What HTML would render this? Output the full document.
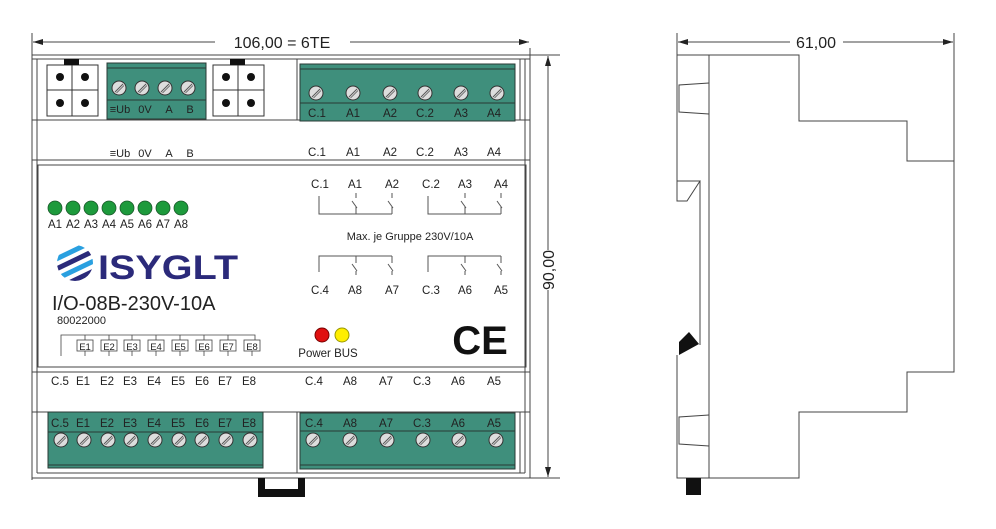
<!DOCTYPE html>
<html><head><meta charset="utf-8"><style>
html,body{margin:0;padding:0;background:#fff;}
svg{display:block;font-family:"Liberation Sans",Arial,sans-serif;}
</style></head><body>
<svg width="996" height="529" viewBox="0 0 996 529" xmlns="http://www.w3.org/2000/svg">
<defs>
<g id="scr"><circle r="7" fill="#ddd" stroke="#333" stroke-width="1"/><line x1="-4" y1="4" x2="4" y2="-4" stroke="#555" stroke-width="1"/><line x1="-2.5" y1="5" x2="5" y2="-2.5" stroke="#555" stroke-width="0.8"/></g>
<g id="sw"><line x1="0" y1="0" x2="0" y2="5" stroke="#555"/><line x1="-4" y1="8" x2="1" y2="15" stroke="#555"/><line x1="0" y1="14" x2="0" y2="21" stroke="#555"/></g>
<g id="swb"><line x1="0" y1="0" x2="0" y2="7" stroke="#555"/><line x1="-4" y1="8" x2="1" y2="15" stroke="#555"/><line x1="0" y1="15" x2="0" y2="19" stroke="#555"/></g>
<marker id="ar" viewBox="0 0 10 6" refX="10" refY="3" markerWidth="10" markerHeight="6" orient="auto-start-reverse" markerUnits="userSpaceOnUse"><path d="M0,0 L10,3 L0,6 z" fill="#222"/></marker>
<clipPath id="sph"><circle cx="75" cy="263" r="18"/></clipPath>
</defs>
<g fill="none" stroke="#444" stroke-width="1">
<!-- dimensions front -->
<line x1="32" y1="33" x2="32" y2="480"/>
<line x1="530" y1="48" x2="530" y2="55"/>
<line x1="33" y1="42" x2="215" y2="42" marker-start="url(#ar)"/>
<line x1="350" y1="42" x2="529" y2="42" marker-end="url(#ar)"/>
<line x1="530" y1="55" x2="560" y2="55"/>
<line x1="530" y1="478" x2="560" y2="478"/>
<line x1="548" y1="56" x2="548" y2="250" marker-start="url(#ar)"/>
<line x1="548" y1="290" x2="548" y2="477" marker-end="url(#ar)"/>
<!-- body -->
<rect x="32" y="55" width="498" height="423"/>
<line x1="32" y1="59" x2="530" y2="59"/>
<line x1="37" y1="59" x2="37" y2="473"/>
<line x1="525" y1="59" x2="525" y2="473"/>
<line x1="297" y1="59" x2="297" y2="120"/>
<line x1="32" y1="120" x2="530" y2="120"/>
<line x1="32" y1="160" x2="530" y2="160"/>
<rect x="38" y="165" width="488" height="202"/>
<line x1="32" y1="372" x2="530" y2="372"/>
<line x1="32" y1="412" x2="530" y2="412"/>
<line x1="37" y1="473" x2="525" y2="473"/>
<line x1="297" y1="412" x2="297" y2="473"/>
<line x1="520" y1="59" x2="520" y2="120"/>
<line x1="520" y1="412" x2="520" y2="473"/>
<!-- side view -->
<line x1="677" y1="33" x2="677" y2="110"/>
<line x1="954" y1="33" x2="954" y2="161"/>
<line x1="678" y1="42" x2="790" y2="42" marker-start="url(#ar)"/>
<line x1="843" y1="42" x2="953" y2="42" marker-end="url(#ar)"/>
<path d="M677 55 H799 V121 H907 V161 H954 V372 H907 V412 H799 V478 H677 V355 M677 181 V55"/>
<line x1="709" y1="55" x2="709" y2="478"/>
<path d="M709 83 L679 85 V112 L709 114"/>
<path d="M709 415 L679 417 V444 L709 446"/>
<path d="M677 181 H700 L687 201 H677 V181"/>
<path d="M700 181 V345"/>
</g>
<polygon points="679,342 689,332 699,344 679,355" fill="#111"/>
<rect x="686" y="478" width="15" height="17" fill="#111"/>
<!-- din clip -->
<path d="M258 478 V497 H305 V478 H298 V489 H265 V478 Z" fill="#111"/>
<!-- dimension texts -->
<g font-size="16" fill="#222"><text x="282" y="48" text-anchor="middle">106,00 = 6TE</text>
<text x="816" y="48" text-anchor="middle">61,00</text>
<text transform="translate(554,270) rotate(-90)" text-anchor="middle">90,00</text></g>
<!-- top left connectors -->
<g stroke="#333" fill="#fff">
<rect x="47" y="65" width="51" height="51"/><line x1="72" y1="65" x2="72" y2="116"/><line x1="47" y1="90" x2="98" y2="90"/>
<rect x="213" y="65" width="51" height="51"/><line x1="238" y1="65" x2="238" y2="116"/><line x1="213" y1="90" x2="264" y2="90"/>
</g>
<rect x="64" y="59" width="15" height="6" fill="#111"/><rect x="230" y="59" width="15" height="6" fill="#111"/>
<g fill="#111"><circle cx="60" cy="77" r="4"/><circle cx="85" cy="77" r="4"/><circle cx="60" cy="103" r="4"/><circle cx="85" cy="103" r="4"/>
<circle cx="226" cy="77" r="4"/><circle cx="251" cy="77" r="4"/><circle cx="226" cy="103" r="4"/><circle cx="251" cy="103" r="4"/></g>
<!-- green blocks -->
<g fill="#3f8f7c" stroke="#2a3a34">
<rect x="107" y="63" width="99" height="56"/>
<rect x="300" y="64" width="215" height="57"/>
<rect x="48" y="412" width="215" height="56"/>
<rect x="300" y="413" width="215" height="56"/>
</g>
<g stroke="#2a3a34">
<line x1="107" y1="68" x2="206" y2="68"/><line x1="107" y1="100" x2="206" y2="100"/>
<line x1="300" y1="69" x2="515" y2="69"/><line x1="300" y1="103" x2="515" y2="103"/>
<line x1="48" y1="432" x2="263" y2="432"/><line x1="48" y1="465" x2="263" y2="465"/>
<line x1="300" y1="431" x2="515" y2="431"/><line x1="300" y1="465" x2="515" y2="465"/>
</g>
<g>
<use href="#scr" x="119" y="88"/><use href="#scr" x="142" y="88"/><use href="#scr" x="165" y="88"/><use href="#scr" x="188" y="88"/>
<use href="#scr" x="316" y="93"/><use href="#scr" x="353" y="93"/><use href="#scr" x="390" y="93"/><use href="#scr" x="425" y="93"/><use href="#scr" x="461" y="93"/><use href="#scr" x="497" y="93"/>
<use href="#scr" x="61" y="440"/><use href="#scr" x="84" y="440"/><use href="#scr" x="108" y="440"/><use href="#scr" x="131" y="440"/><use href="#scr" x="155" y="440"/><use href="#scr" x="179" y="440"/><use href="#scr" x="202" y="440"/><use href="#scr" x="226" y="440"/><use href="#scr" x="250" y="440"/>
<use href="#scr" x="313" y="440"/><use href="#scr" x="350" y="440"/><use href="#scr" x="387" y="440"/><use href="#scr" x="423" y="440"/><use href="#scr" x="459" y="440"/><use href="#scr" x="496" y="440"/>
</g>
<g font-size="11" fill="#222" text-anchor="middle">
<text x="120" y="113">≡Ub</text><text x="145" y="113">0V</text><text x="169" y="113">A</text><text x="190" y="113">B</text>
<text x="120" y="157">≡Ub</text><text x="145" y="157">0V</text><text x="169" y="157">A</text><text x="190" y="157">B</text>
<g font-size="11.5">
<text x="317" y="117">C.1</text><text x="353" y="117">A1</text><text x="390" y="117">A2</text><text x="425" y="117">C.2</text><text x="461" y="117">A3</text><text x="494" y="117">A4</text>
<text x="317" y="156">C.1</text><text x="353" y="156">A1</text><text x="390" y="156">A2</text><text x="425" y="156">C.2</text><text x="461" y="156">A3</text><text x="494" y="156">A4</text>
<text x="320" y="188">C.1</text><text x="355" y="188">A1</text><text x="392" y="188">A2</text><text x="431" y="188">C.2</text><text x="465" y="188">A3</text><text x="501" y="188">A4</text>
<text x="320" y="294">C.4</text><text x="355" y="294">A8</text><text x="392" y="294">A7</text><text x="431" y="294">C.3</text><text x="465" y="294">A6</text><text x="501" y="294">A5</text>
<text x="314" y="385">C.4</text><text x="350" y="385">A8</text><text x="386" y="385">A7</text><text x="422" y="385">C.3</text><text x="458" y="385">A6</text><text x="494" y="385">A5</text>
<text x="314" y="427">C.4</text><text x="350" y="427">A8</text><text x="386" y="427">A7</text><text x="422" y="427">C.3</text><text x="458" y="427">A6</text><text x="494" y="427">A5</text>
<text x="60" y="385">C.5</text><text x="83" y="385">E1</text><text x="107" y="385">E2</text><text x="130" y="385">E3</text><text x="154" y="385">E4</text><text x="178" y="385">E5</text><text x="202" y="385">E6</text><text x="225" y="385">E7</text><text x="249" y="385">E8</text>
<text x="60" y="427">C.5</text><text x="83" y="427">E1</text><text x="107" y="427">E2</text><text x="130" y="427">E3</text><text x="154" y="427">E4</text><text x="178" y="427">E5</text><text x="202" y="427">E6</text><text x="225" y="427">E7</text><text x="249" y="427">E8</text>
</g>
<text x="410" y="240" font-size="11">Max. je Gruppe 230V/10A</text>
<text x="328" y="357" font-size="11.5">Power BUS</text>
</g>
<!-- relay schematic -->
<g fill="none" stroke="#555">
<path d="M319 196 V214 H392"/><path d="M428 196 V214 H501"/>
<path d="M319 272 V256 H392"/><path d="M428 272 V256 H501"/>
</g>
<use href="#sw" x="356" y="193"/><use href="#sw" x="392" y="193"/><use href="#sw" x="465" y="193"/><use href="#sw" x="501" y="193"/>
<use href="#swb" x="356" y="256"/><use href="#swb" x="392" y="256"/><use href="#swb" x="465" y="256"/><use href="#swb" x="501" y="256"/>
<!-- LEDs -->
<g fill="#1d9a3c" stroke="#1a5a2a" stroke-width="0.8">
<circle cx="55" cy="208" r="7"/><circle cx="73" cy="208" r="7"/><circle cx="91" cy="208" r="7"/><circle cx="109" cy="208" r="7"/><circle cx="127" cy="208" r="7"/><circle cx="145" cy="208" r="7"/><circle cx="163" cy="208" r="7"/><circle cx="181" cy="208" r="7"/>
</g>
<g font-size="11.5" fill="#222" text-anchor="middle">
<text x="55" y="228">A1</text><text x="73" y="228">A2</text><text x="91" y="228">A3</text><text x="109" y="228">A4</text><text x="127" y="228">A5</text><text x="145" y="228">A6</text><text x="163" y="228">A7</text><text x="181" y="228">A8</text>
</g>
<circle cx="322" cy="335" r="7" fill="#e01010" stroke="#700"/>
<circle cx="342" cy="335" r="7" fill="#ffee00" stroke="#990"/>
<!-- logo -->
<g clip-path="url(#sph)" stroke-width="5">
<line x1="50" y1="262" x2="100" y2="238" stroke="#2aa0e0"/>
<line x1="50" y1="272" x2="100" y2="248" stroke="#2b2a7a"/>
<line x1="50" y1="282" x2="100" y2="258" stroke="#2aa0e0"/>
<line x1="50" y1="292" x2="100" y2="268" stroke="#2b2a7a"/>
<line x1="50" y1="302" x2="100" y2="278" stroke="#2aa0e0"/>
<line x1="50" y1="312" x2="100" y2="288" stroke="#2b2a7a"/>
</g>
<text x="98" y="279" font-size="34" font-weight="bold" fill="#2b2a7a" textLength="140" lengthAdjust="spacingAndGlyphs">ISYGLT</text>
<text x="52" y="310" font-size="20" fill="#222">I/O-08B-230V-10A</text>
<text x="57" y="324" font-size="11" fill="#222">80022000</text>
<!-- E boxes -->
<g fill="none" stroke="#444" stroke-width="0.8">
<path d="M61 356 V335 H255 V340"/>
<path d="M85 335 V340 M85 351 V356 M109 335 V340 M109 351 V356 M132 335 V340 M132 351 V356 M156 335 V340 M156 351 V356 M180 335 V340 M180 351 V356 M204 335 V340 M204 351 V356 M228 335 V340 M228 351 V356 M252 351 V356"/>
<rect x="77" y="340" width="16" height="11"/><rect x="101" y="340" width="16" height="11"/><rect x="124" y="340" width="16" height="11"/><rect x="148" y="340" width="16" height="11"/><rect x="172" y="340" width="16" height="11"/><rect x="196" y="340" width="16" height="11"/><rect x="220" y="340" width="16" height="11"/><rect x="244" y="340" width="16" height="11"/>
</g>
<g font-size="9.5" fill="#222" text-anchor="middle">
<text x="85" y="350">E1</text><text x="109" y="350">E2</text><text x="132" y="350">E3</text><text x="156" y="350">E4</text><text x="180" y="350">E5</text><text x="204" y="350">E6</text><text x="228" y="350">E7</text><text x="252" y="350">E8</text>
</g>
<!-- CE -->
<text x="480" y="354" font-size="40" text-anchor="middle" fill="#111" font-weight="bold">CE</text>
</svg>
</body></html>
